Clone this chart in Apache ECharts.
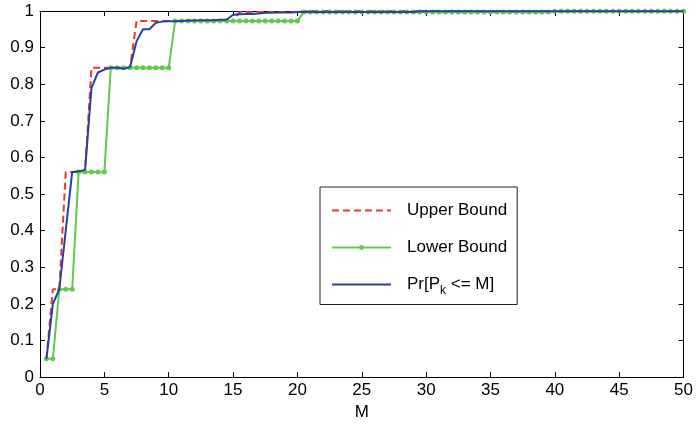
<!DOCTYPE html>
<html>
<head>
<meta charset="utf-8">
<script src="https://cdn.jsdelivr.net/npm/echarts@6/dist/echarts.min.js"></script>
<style>
  html, body { margin: 0; padding: 0; background: #fff; }
  #chart { width: 696px; height: 426px; }
</style>
</head>
<body>
<div id="chart"></div>
<script>
// M values (x axis samples)
const mValues = [
  0.5, 1, 1.5, 2, 2.5, 3, 3.5, 4, 4.5, 5, 5.5, 6, 6.5, 7, 7.5, 8, 8.5, 9, 9.5, 10,
  10.5, 11, 11.5, 12, 12.5, 13, 13.5, 14, 14.5, 15, 15.5, 16, 16.5, 17, 17.5, 18, 18.5, 19, 19.5, 20,
  20.5, 21, 21.5, 22, 22.5, 23, 23.5, 24, 24.5, 25, 25.5, 26, 26.5, 27, 27.5, 28, 28.5, 29, 29.5, 30,
  30.5, 31, 31.5, 32, 32.5, 33, 33.5, 34, 34.5, 35, 35.5, 36, 36.5, 37, 37.5, 38, 38.5, 39, 39.5, 40,
  40.5, 41, 41.5, 42, 42.5, 43, 43.5, 44, 44.5, 45, 45.5, 46, 46.5, 47, 47.5, 48, 48.5, 49, 49.5, 50
];

// upper bound
const upperBound = [
  0.05, 0.24, 0.24, 0.56, 0.56, 0.56, 0.56, 0.845, 0.845, 0.845, 0.845, 0.845, 0.845, 0.845, 0.973, 0.973, 0.973, 0.973, 0.973, 0.973,
  0.973, 0.973, 0.973, 0.973, 0.973, 0.973, 0.973, 0.973, 0.973, 0.973, 0.997, 0.997, 0.997, 0.997, 0.997, 0.997, 0.997, 0.997, 0.997, 0.997,
  1, 1, 1, 1, 1, 1, 1, 1, 1, 1, 1, 1, 1, 1, 1, 1, 1, 1, 1, 1,
  1, 1, 1, 1, 1, 1, 1, 1, 1, 1, 1, 1, 1, 1, 1, 1, 1, 1, 1, 1,
  1, 1, 1, 1, 1, 1, 1, 1, 1, 1, 1, 1, 1, 1, 1, 1, 1, 1, 1, 1
];

// lower bound
const lowerBound = [
  0.05, 0.05, 0.24, 0.24, 0.24, 0.56, 0.56, 0.56, 0.56, 0.56, 0.845, 0.845, 0.845, 0.845, 0.845, 0.845, 0.845, 0.845, 0.845, 0.845,
  0.973, 0.973, 0.973, 0.973, 0.973, 0.973, 0.973, 0.973, 0.973, 0.973, 0.973, 0.973, 0.973, 0.973, 0.973, 0.973, 0.973, 0.973, 0.973, 0.973,
  0.997, 0.997, 0.997, 0.997, 0.997, 0.997, 0.997, 0.997, 0.997, 0.997, 0.997, 0.997, 0.997, 0.997, 0.997, 0.997, 0.997, 0.997, 0.997, 0.997,
  0.997, 0.997, 0.997, 0.997, 0.997, 0.997, 0.997, 0.997, 0.997, 0.997, 0.997, 0.997, 0.997, 0.997, 0.997, 0.997, 0.997, 0.997, 0.997, 0.999,
  0.999, 0.999, 0.999, 0.999, 0.999, 0.999, 0.999, 0.999, 0.999, 0.999, 0.999, 0.999, 0.999, 0.999, 0.999, 0.999, 0.999, 0.999, 0.999, 0.999
];

// Pr[P_k <= M]
const prValues = [
  0.05, 0.2, 0.24, 0.40, 0.56, 0.562, 0.566, 0.79, 0.832, 0.84, 0.845, 0.845, 0.842, 0.847, 0.917, 0.95, 0.95, 0.968, 0.971, 0.972,
  0.972, 0.973, 0.974, 0.974, 0.975, 0.975, 0.975, 0.976, 0.976, 0.99, 0.991, 0.992, 0.992, 0.993, 0.995, 0.995, 0.996, 0.996, 0.996, 0.997,
  0.997, 0.997, 0.997, 0.997, 0.997, 0.997, 0.997, 0.997, 0.997, 0.997, 0.997, 0.997, 0.997, 0.997, 0.997, 0.997, 0.997, 0.997, 0.999, 0.999,
  0.999, 0.999, 0.999, 0.999, 0.999, 0.999, 0.999, 0.999, 0.999, 0.999, 0.999, 0.999, 0.999, 0.999, 0.999, 0.999, 0.999, 0.999, 0.999, 0.999,
  0.999, 0.999, 0.999, 0.999, 0.999, 0.999, 0.999, 0.999, 0.999, 0.999, 0.999, 0.999, 0.999, 0.999, 0.999, 0.999, 0.999, 0.999, 0.999, 0.999
];

const seriesNames = ['Upper Bound', 'Lower Bound', 'Pr[P_k <= M]'];

function pairs(vals) {
  return mValues.map((m, i) => [m, vals[i]]);
}

const font = 'Liberation Sans, Arial, Helvetica, sans-serif';

let myChart = echarts.init(document.getElementById('chart'), null, {renderer: 'canvas'});

const axisCommon = {
  type: 'value',
  axisLine: {show: true, onZero: false, lineStyle: {color: '#000', width: 1}},
  axisTick: {show: true, inside: true, length: 5, lineStyle: {color: '#000'}},
  splitLine: {show: false},
  axisLabel: {color: '#000', fontSize: 17, fontFamily: font}
};

myChart.setOption({
  animation: false,
  backgroundColor: '#fff',
  grid: {left: 40, right: 9, top: 11, bottom: 45},
  xAxis: [
    Object.assign({}, axisCommon, {
      position: 'bottom', min: 0, max: 50, interval: 5,
      axisLabel: Object.assign({}, axisCommon.axisLabel, {margin: 5}),
      name: 'M', nameLocation: 'middle', nameGap: 24,
      nameTextStyle: {color: '#000', fontSize: 17, fontFamily: font}
    }),
    Object.assign({}, axisCommon, {
      position: 'top', min: 0, max: 50, interval: 5,
      axisLabel: {show: false}
    })
  ],
  yAxis: [
    Object.assign({}, axisCommon, {
      position: 'left', min: 0, max: 1, interval: 0.1,
      axisLabel: Object.assign({}, axisCommon.axisLabel, {margin: 6})
    }),
    Object.assign({}, axisCommon, {
      position: 'right', min: 0, max: 1, interval: 0.1,
      axisLabel: {show: false}
    })
  ],
  legend: {
    orient: 'vertical',
    left: 320,
    top: 187,
    // only the lower bound shows a dot in its legend icon
    data: [
      {name: seriesNames[0], itemStyle: {opacity: 0}},
      {name: seriesNames[1]},
      {name: seriesNames[2], itemStyle: {opacity: 0}}
    ],
    itemWidth: 59,
    itemHeight: 6,
    itemGap: 20,
    padding: [15, 10, 8, 11],
    borderColor: '#222',
    borderWidth: 1,
    selectedMode: false,
    formatter: function (name) {
      return name === 'Pr[P_k <= M]' ? 'Pr[P{sub|k} <= M]' : name;
    },
    textStyle: {
      color: '#000', fontSize: 17, fontFamily: font,
      padding: [0, 0, 0, 11],
      rich: {
        sub: {fontSize: 12, fontFamily: font, color: '#000', verticalAlign: 'bottom', lineHeight: 24}
      }
    }
  },
  series: [
    {
      name: seriesNames[0],
      type: 'line',
      data: pairs(upperBound),
      symbol: 'none',
      lineStyle: {color: '#E8392F', width: 2, type: [7, 4]},
      itemStyle: {color: '#E8392F'},
      z: 2
    },
    {
      name: seriesNames[1],
      type: 'line',
      data: pairs(lowerBound),
      symbol: 'circle',
      symbolSize: 5,
      showSymbol: true,
      lineStyle: {color: '#62C94E', width: 2},
      itemStyle: {color: '#62C94E'},
      z: 3
    },
    {
      name: seriesNames[2],
      type: 'line',
      data: pairs(prValues),
      symbol: 'none',
      lineStyle: {color: '#2B3F9E', width: 2},
      itemStyle: {color: '#2B3F9E'},
      z: 4
    }
  ]
});
</script>
</body>
</html>
